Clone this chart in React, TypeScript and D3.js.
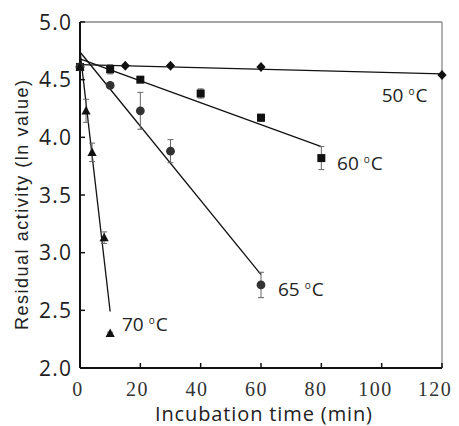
import React from "react";
import * as d3 from "d3";

const xTicks = [0, 20, 40, 60, 80, 100, 120];
const yTicks = [2.0, 2.5, 3.0, 3.5, 4.0, 4.5, 5.0];

const t50 = [0, 15, 30, 60, 120];
const v50 = [4.61, 4.62, 4.62, 4.61, 4.54];
const e50 = [0.02, 0.01, 0.01, 0.01, 0.01];
const fit50 = [[0, 4.63], [120, 4.55]];

const t60 = [0, 10, 20, 40, 60, 80];
const v60 = [4.61, 4.59, 4.50, 4.38, 4.17, 3.82];
const e60 = [0.02, 0.04, 0.02, 0.04, 0.03, 0.1];
const fit60 = [[0, 4.68], [80, 3.92]];

const t65 = [0, 10, 20, 30, 60];
const v65 = [4.61, 4.45, 4.23, 3.88, 2.72];
const e65 = [0.02, 0.02, 0.16, 0.1, 0.11];
const fit65 = [[0, 4.74], [60, 2.81]];

const t70 = [0, 2, 4, 8, 10];
const v70 = [4.61, 4.23, 3.87, 3.13, 2.30];
const e70 = [0.02, 0.1, 0.08, 0.05, 0.01];
const fit70 = [[0, 4.75], [10, 2.49]];

const labels = [
  { text: "50", x: 100, y: 4.31 },
  { text: "60", x: 85.2, y: 3.72 },
  { text: "65", x: 65.6, y: 2.62 },
  { text: "70", x: 13.9, y: 2.32 },
];

const W = 459, H = 426;
const L = 80, R = 442, T = 22, B = 368;

export default function App() {
  const x = d3.scaleLinear().domain([0, 120]).range([L, R]);
  const y = d3.scaleLinear().domain([2, 5]).range([B, T]);
  const line = d3.line<number[]>().x(d => x(d[0])).y(d => y(d[1]));

  const series = [
    { t: t50, v: v50, e: e50, fit: fit50, shape: "diamond" },
    { t: t60, v: v60, e: e60, fit: fit60, shape: "square" },
    { t: t65, v: v65, e: e65, fit: fit65, shape: "circle" },
    { t: t70, v: v70, e: e70, fit: fit70, shape: "triangle" },
  ];

  const marker = (shape: string, cx: number, cy: number, key: string) => {
    if (shape === "diamond") {
      return <path key={key} d="M0,-5L4.6,0L0,5L-4.6,0Z" transform={`translate(${cx},${cy})`} fill="#111" />;
    }
    if (shape === "square") {
      return <rect key={key} x={cx - 4} y={cy - 4} width={8} height={8} fill="#111" />;
    }
    if (shape === "circle") {
      return <circle key={key} cx={cx} cy={cy} r={4.4} fill="#333" />;
    }
    return <path key={key} d="M0,-4.8L4.6,3.6L-4.6,3.6Z" transform={`translate(${cx},${cy})`} fill="#111" />;
  };

  return (
    <svg width={W} height={H} style={{ position: "absolute", left: 0, top: 0, background: "#fff" }}>
      <rect x={0} y={0} width={W} height={H} fill="#fff" />
      <line x1={L} y1={T} x2={R} y2={T} stroke="#888" strokeWidth={1.3} />
      <line x1={R} y1={T} x2={R} y2={B} stroke="#888" strokeWidth={1.3} />
      <line x1={L} y1={T} x2={L} y2={B} stroke="#111" strokeWidth={2} />
      <line x1={L} y1={B} x2={R} y2={B} stroke="#111" strokeWidth={2} />
      {yTicks.map(v => (
        <g key={"y" + v}>
          <line x1={L} x2={L + 5} y1={y(v)} y2={y(v)} stroke="#111" strokeWidth={1.5} />
          <text x={39} y={y(v)} dy="0.36em" fontFamily="Open Sans" fontSize={21} letterSpacing={1.2} fill="#222">
            {v.toFixed(1)}
          </text>
        </g>
      ))}
      {xTicks.map(v => (
        <g key={"x" + v}>
          <line x1={x(v)} x2={x(v)} y1={B} y2={B - 5} stroke="#111" strokeWidth={1.5} />
          <text x={x(v) - 2 - v / 24} y={396} textAnchor="middle" fontFamily="Liberation Serif" fontSize={20} letterSpacing={1.5} fill="#333">
            {v}
          </text>
        </g>
      ))}
      <text x={155} y={421} textLength={217} lengthAdjust="spacing" fontFamily="Open Sans" fontSize={20} fill="#222">
        Incubation time (min)
      </text>
      <text transform={`translate(28,330) rotate(-90)`} textLength={250} lengthAdjust="spacing" fontFamily="Liberation Sans" fontSize={18} fill="#222">
        Residual activity (ln value)
      </text>
      {series.map((s, i) => (
        <path key={"f" + i} d={line(s.fit as number[][])!} stroke="#111" strokeWidth={1.3} fill="none" />
      ))}
      {series.map((s, i) =>
        s.t.map((t, j) => (
          <g key={`e${i}-${j}`} stroke="#666" strokeWidth={1}>
            <line x1={x(t)} x2={x(t)} y1={y(s.v[j] - s.e[j])} y2={y(s.v[j] + s.e[j])} />
            <line x1={x(t) - 3} x2={x(t) + 3} y1={y(s.v[j] - s.e[j])} y2={y(s.v[j] - s.e[j])} />
            <line x1={x(t) - 3} x2={x(t) + 3} y1={y(s.v[j] + s.e[j])} y2={y(s.v[j] + s.e[j])} />
          </g>
        ))
      )}
      {series.map((s, i) => s.t.map((t, j) => marker(s.shape, x(t), y(s.v[j]), `m${i}-${j}`)))}
      {labels.map(l => (
        <text key={l.text} x={x(l.x)} y={y(l.y)} fontFamily="Open Sans" fontSize={19} fill="#222">
          {l.text}
          <tspan fontSize={10} dy={-7} dx={5}>o</tspan>
          <tspan dy={7} dx={1}>C</tspan>
        </text>
      ))}
    </svg>
  );
}
